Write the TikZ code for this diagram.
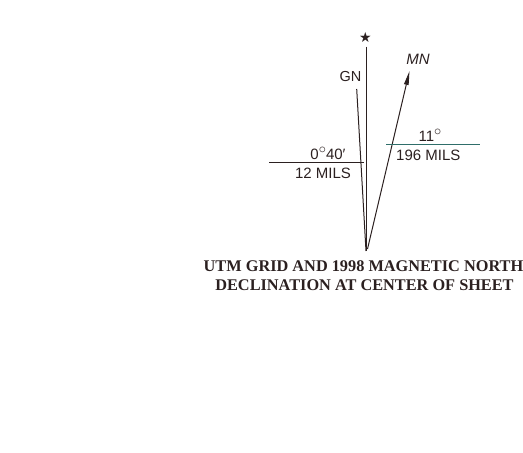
\documentclass[tikz,border=0pt]{standalone}
\usepackage{fontspec}
\setmainfont{Liberation Serif}
\setsansfont{Liberation Sans}
\newfontfamily\symfont{DejaVu Sans}
\usetikzlibrary{arrows.meta}
\definecolor{ink}{HTML}{2B2020}
\definecolor{tealline}{HTML}{2F6E6A}
\newcommand{\degsym}{\raisebox{0.42em}{$\circ$}}
\tikzset{
  lbl/.style={font=\sffamily\fontsize{15}{15}\selectfont, text=ink, inner sep=0pt, anchor=base},
  captext/.style={font=\bfseries\fontsize{16.3}{16.3}\selectfont, text=ink, inner sep=0pt, anchor=base},
  ln/.style={draw=ink, line width=1pt},
}
\begin{document}
\begin{tikzpicture}[x=1pt,y=-1pt]
\useasboundingbox (0,0) rectangle (523,453);
% star and grid/true line
\node[text=ink, inner sep=0pt, font=\symfont\fontsize{14}{14}\selectfont] (star) at (365.5,37.5) {★};
\coordinate (top) at (366,46.5);
\coordinate (bot) at (366,251);
\coordinate (gntop) at (356.7,89);
\coordinate (mnbot) at (367.5,249);
\coordinate (mntip) at (409.5,71);
\draw[ln] (top) -- (bot);
\draw[ln] (gntop) -- (bot);
\draw[ln, -{Triangle[length=14pt,width=4.5pt]}] (mnbot) -- (mntip);
% labels
\node[lbl, font=\sffamily\fontsize{14.5}{14.5}\selectfont] (gn) at (350.5,81.7) {GN};
\node[lbl, font=\sffamily\itshape\fontsize{15}{15}\selectfont] (mn) at (418,64) {MN};
% left scale
\coordinate (la) at (269,162.7);
\coordinate (lb) at (364,162.7);
\draw[ln] (la) -- (lb);
\node[lbl] (deg1) at (328,159.5) {0\degsym40′};
\node[lbl] (mil1) at (323,178.3) {12 MILS};
% right scale
\coordinate (ra) at (386,144.3);
\coordinate (rb) at (480,144.3);
\draw[draw=tealline, line width=1pt] (ra) -- (rb);
\node[lbl] (deg2) at (430,141.7) {11\degsym};
\node[lbl] (mil2) at (428.3,160) {196 MILS};
% caption
\node[captext] (cap1) at (363.5,271) {UTM GRID AND 1998 MAGNETIC NORTH};
\node[captext] (cap2) at (364.5,290) {DECLINATION AT CENTER OF SHEET};
\end{tikzpicture}
\end{document}
